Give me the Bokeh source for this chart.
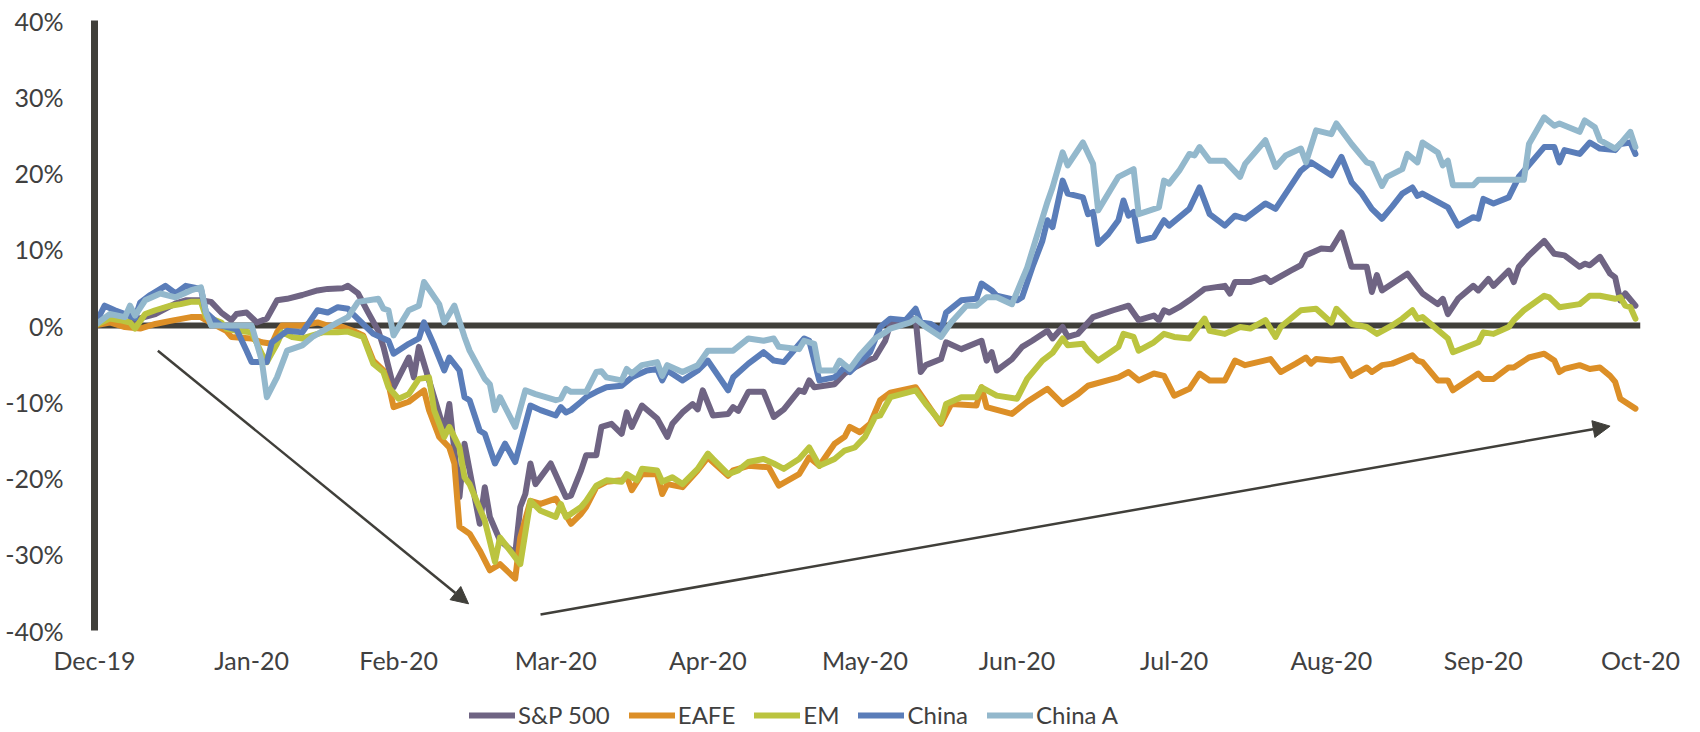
import pandas as pd
from bokeh.plotting import figure
from bokeh.layouts import column
from bokeh.models import (Range1d, FixedTicker, DatetimeTickFormatter, Span, Arrow,
                          NormalHead, Legend, LegendItem)
from bokeh.embed import file_html
from bokeh.resources import INLINE

# ---------------- data (days after 2019-12-31, cumulative return in %) ----------------
BASE_DATE = "2019-12-31"

sp500_days = [0, 3, 6, 12, 16, 18, 21, 23, 25, 27, 28, 30, 32, 34, 36, 38, 41, 44, 46, 49,
              50, 52, 54, 56, 57, 59, 62, 63, 64, 69, 70, 72, 73, 76, 77, 78, 80, 83, 84, 85,
              86, 87, 90, 93, 94, 96, 97, 99, 100, 102, 104, 105, 106, 108, 111, 113, 114, 116, 118, 119,
              120, 122, 125, 126, 127, 129, 132, 134, 136, 139, 140, 141, 142, 146, 148, 150, 152, 154, 156, 157,
              162, 163, 164, 167, 168, 171, 175, 176, 177, 178, 181, 183, 185, 188, 189, 191, 192, 194, 197, 201,
              204, 206, 209, 210, 211, 212, 214, 216, 219, 223, 224, 225, 228, 231, 232, 236, 238, 239, 242, 244,
              246, 248, 251, 252, 253, 254, 259, 262, 265, 266, 267, 269, 272, 273, 275, 276, 279, 280, 281, 283,
              286, 288, 290, 293, 294, 295, 297, 299, 300, 301, 302, 304]
sp500_vals = [0.0, 0.9, 0.4, 1.5, 2.9, 3.3, 3.3, 3.1, 1.7, 0.7, 1.5, 1.7, 0.4, 0.9, 3.3, 3.5, 4.0, 4.6, 4.8, 4.9,
              5.2, 4.2, 1.7, -0.7, -2.8, -8.1, -4.2, -6.8, -2.8, -13.8, -10.3, -22.5, -15.5, -26.0, -21.2, -25.1, -28.2, -29.9, -23.8, -22.1,
              -18.1, -20.8, -18.1, -22.5, -22.3, -19.0, -17.0, -17.0, -13.3, -12.9, -14.2, -11.4, -13.3, -10.5, -12.2, -14.6, -12.9, -11.4, -10.3, -11.0,
              -8.5, -11.8, -11.6, -10.7, -11.2, -8.7, -8.7, -12.0, -11.0, -8.5, -8.7, -7.2, -8.1, -7.7, -6.3, -5.5, -4.8, -4.2, -2.0, 0.2,
              0.9, -6.1, -5.2, -4.4, -2.2, -3.1, -2.0, -4.6, -3.5, -5.9, -4.4, -2.8, -2.0, -0.7, -1.7, -0.2, -1.5, -1.1, 1.1, 2.0,
              2.6, 0.7, 1.3, 0.7, 2.0, 1.7, 2.4, 3.3, 4.8, 5.2, 4.2, 5.7, 5.7, 6.3, 5.7, 7.2, 7.9, 9.2, 10.1, 10.0,
              12.2, 7.7, 7.7, 4.4, 6.6, 4.6, 6.8, 4.2, 2.8, 3.5, 1.5, 3.5, 5.2, 4.6, 6.1, 5.2, 7.2, 5.7, 7.7, 9.2,
              11.1, 9.4, 9.2, 7.7, 8.1, 7.9, 9.0, 6.8, 6.3, 3.3, 4.2, 2.6]

eafe_days = [0, 3, 6, 9, 12, 15, 19, 21, 22, 24, 26, 27, 31, 33, 35, 36, 37, 41, 44, 46,
             49, 51, 53, 55, 57, 58, 59, 62, 64, 65, 66, 68, 70, 71, 72, 74, 76, 78, 80, 83,
             84, 86, 88, 91, 94, 96, 97, 99, 101, 104, 105, 106, 108, 111, 112, 113, 116, 119, 121, 125,
             126, 129, 133, 135, 139, 141, 143, 146, 148, 149, 151, 153, 155, 157, 162, 167, 169, 174, 175, 176,
             181, 184, 188, 191, 194, 196, 202, 204, 206, 209, 211, 213, 216, 218, 220, 223, 225, 227, 232, 234,
             237, 239, 240, 241, 244, 246, 248, 251, 252, 254, 256, 260, 261, 262, 265, 267, 268, 273, 274, 276,
             279, 280, 283, 286, 288, 289, 290, 293, 295, 297, 299, 300, 301, 304]
eafe_vals = [0.0, 0.4, -0.2, -0.4, 0.2, 0.6, 1.1, 1.1, 0.7, 0.0, -0.7, -1.5, -1.7, -2.2, -2.4, -0.9, 0.0, 0.0, 0.4, 0.0,
             -0.2, -0.7, -1.3, -4.6, -5.9, -7.7, -10.7, -10.0, -9.0, -8.5, -11.1, -14.6, -16.0, -18.1, -26.4, -27.3, -29.5, -32.1, -31.3, -33.2,
             -27.8, -23.0, -23.4, -22.7, -26.0, -24.7, -23.8, -21.2, -20.5, -20.3, -19.8, -21.6, -19.5, -19.5, -22.1, -20.8, -21.2, -19.0, -17.3, -19.7,
             -19.0, -18.4, -18.6, -21.0, -19.5, -17.3, -18.4, -15.5, -14.6, -13.3, -14.0, -12.9, -9.8, -8.8, -8.1, -12.9, -10.3, -10.5, -8.1, -10.7,
             -11.6, -10.0, -8.3, -10.3, -9.0, -7.9, -6.8, -6.1, -7.2, -6.3, -6.6, -9.2, -8.3, -6.3, -7.2, -7.2, -4.6, -5.2, -4.4, -6.1,
             -5.0, -4.2, -5.0, -4.4, -4.6, -4.4, -6.6, -5.5, -6.1, -5.2, -5.0, -3.9, -4.6, -4.8, -7.2, -7.2, -8.5, -6.3, -7.0, -7.0,
             -5.5, -5.5, -4.2, -3.7, -4.6, -6.1, -5.7, -5.2, -5.7, -5.5, -6.6, -7.4, -9.6, -10.9]

em_days = [0, 3, 5, 7, 8, 10, 12, 15, 17, 19, 21, 22, 23, 25, 26, 28, 31, 33, 34, 36,
           37, 39, 41, 45, 48, 50, 53, 55, 57, 58, 60, 62, 64, 66, 67, 69, 70, 72, 73, 74,
           77, 79, 80, 83, 84, 86, 88, 91, 92, 93, 94, 96, 97, 99, 101, 104, 105, 107, 108, 111,
           112, 114, 116, 119, 121, 122, 125, 127, 129, 132, 134, 136, 139, 141, 143, 146, 148, 150, 152, 154,
           155, 157, 162, 164, 167, 168, 171, 174, 175, 178, 182, 184, 187, 189, 191, 192, 195, 196, 198, 200,
           202, 203, 205, 206, 209, 211, 213, 216, 219, 220, 223, 226, 228, 231, 233, 234, 238, 241, 244, 245,
           248, 251, 253, 256, 258, 260, 261, 262, 267, 268, 273, 274, 276, 279, 280, 282, 286, 287, 289, 293,
           295, 297, 300, 301, 302, 303, 304]
em_vals = [0.0, 0.9, 0.7, 0.4, -0.4, 1.5, 2.0, 2.6, 2.8, 3.1, 3.1, 1.1, 0.9, 0.4, -0.4, -0.7, -0.9, -3.7, -4.8, -2.4,
           -0.9, -1.5, -1.7, -0.9, -0.9, -0.8, -1.5, -5.0, -6.1, -8.1, -9.6, -9.0, -7.0, -6.8, -11.1, -14.6, -13.3, -16.0, -19.9, -20.8,
           -25.6, -31.0, -27.8, -30.4, -31.3, -23.0, -24.3, -25.1, -23.4, -25.1, -24.7, -23.8, -23.0, -21.0, -20.3, -20.5, -19.5, -20.3, -18.8, -19.0,
           -20.5, -19.9, -20.8, -18.8, -16.8, -17.5, -19.5, -19.0, -17.9, -17.5, -18.1, -18.8, -17.5, -16.0, -18.4, -17.5, -16.4, -16.0, -14.6, -12.0,
           -11.8, -9.4, -8.5, -10.3, -12.7, -10.3, -9.4, -9.4, -8.1, -9.2, -9.6, -7.0, -4.6, -3.6, -1.7, -2.6, -2.4, -3.3, -4.6, -3.7,
           -2.8, -1.1, -1.5, -3.3, -2.2, -1.1, -1.5, -1.7, 0.9, -0.7, -1.1, -0.2, -0.4, 0.7, -1.5, -0.2, 2.0, 2.2, 0.4, 2.2,
           0.2, -0.2, -1.1, 0.0, 0.9, 2.0, 0.9, 1.1, -1.7, -3.5, -2.2, -0.9, -1.1, -0.2, 0.7, 2.0, 3.9, 3.7, 2.4, 2.8,
           3.9, 3.9, 3.5, 3.7, 2.6, 2.4, 0.9]

china_days = [0, 2, 4, 6, 8, 9, 11, 14, 16, 18, 21, 22, 24, 25, 28, 30, 31, 34, 35, 38,
              41, 44, 46, 48, 50, 51, 55, 58, 59, 62, 64, 65, 67, 69, 70, 72, 73, 74, 76, 77,
              79, 81, 83, 86, 88, 91, 92, 93, 94, 96, 97, 99, 101, 104, 106, 109, 111, 112, 113, 116,
              119, 121, 125, 126, 129, 132, 134, 136, 140, 141, 143, 146, 148, 149, 153, 155, 157, 160, 162, 163,
              165, 167, 168, 171, 174, 175, 177, 178, 182, 183, 185, 187, 188, 189, 191, 192, 195, 196, 197, 198,
              200, 202, 203, 204, 205, 206, 209, 211, 212, 216, 218, 220, 223, 225, 227, 231, 233, 238, 240, 244,
              246, 248, 250, 252, 254, 256, 258, 260, 261, 262, 267, 269, 272, 273, 274, 276, 279, 281, 286, 288,
              289, 290, 293, 295, 297, 300, 301, 303, 304]
china_vals = [0.0, 2.6, 2.0, 1.5, 1.0, 3.0, 4.0, 5.2, 4.2, 5.2, 4.8, 1.7, 0.5, 0.0, -0.5, -3.3, -4.8, -4.8, -2.2, -0.7,
              -0.9, 2.0, 1.7, 2.4, 2.2, 1.5, -1.1, -2.0, -3.7, -2.4, -1.7, 0.4, -2.6, -5.9, -4.2, -5.9, -9.4, -9.8, -13.8, -14.2,
              -18.1, -15.5, -17.9, -10.5, -11.1, -11.8, -10.7, -11.4, -11.1, -10.0, -9.4, -8.7, -8.1, -7.9, -6.8, -5.9, -5.7, -7.2, -5.9, -7.2,
              -5.9, -4.6, -8.5, -6.8, -5.0, -3.5, -4.6, -4.8, -1.7, -2.0, -7.2, -6.8, -5.5, -6.1, -3.5, -0.2, 0.9, 0.7, 2.2, 0.4,
              0.2, -0.7, 1.7, 3.3, 3.5, 5.5, 4.6, 3.9, 3.3, 3.7, 7.6, 11.1, 13.8, 12.9, 19.0, 17.3, 16.8, 14.6, 14.9, 10.7,
              12.0, 13.8, 16.4, 14.4, 14.9, 11.1, 11.6, 13.8, 13.1, 15.3, 18.1, 14.6, 13.1, 14.4, 14.0, 16.0, 15.3, 20.3, 21.4, 19.7,
              22.1, 18.8, 17.3, 15.3, 14.0, 15.6, 17.3, 18.1, 17.0, 17.3, 15.5, 13.1, 14.2, 14.0, 16.6, 16.0, 16.8, 19.5, 23.4, 23.4,
              21.4, 23.0, 22.5, 24.0, 23.2, 23.0, 23.8, 24.0, 22.5]

chinaa_days = [0, 3, 6, 7, 8, 10, 13, 16, 19, 21, 22, 23, 31, 33, 34, 36, 38, 41, 43, 48,
               50, 52, 56, 57, 58, 59, 62, 64, 65, 68, 69, 71, 73, 74, 77, 78, 79, 80, 83, 85,
               87, 91, 92, 93, 94, 97, 99, 100, 101, 104, 105, 106, 108, 111, 112, 113, 116, 119, 121, 126,
               129, 132, 134, 135, 139, 140, 142, 143, 146, 147, 149, 151, 154, 156, 157, 161, 162, 164, 167, 169,
               172, 174, 176, 178, 181, 184, 188, 189, 191, 192, 195, 197, 198, 202, 205, 206, 210, 211, 212, 214,
               216, 217, 218, 220, 223, 226, 227, 231, 233, 235, 238, 239, 241, 244, 245, 248, 251, 252, 254, 255,
               258, 259, 261, 262, 265, 266, 267, 268, 272, 273, 282, 283, 286, 288, 289, 293, 294, 296, 297, 300,
               301, 303, 304]
chinaa_vals = [0.0, 1.5, 1.1, 2.6, 1.3, 3.3, 4.2, 3.7, 4.6, 5.0, 1.7, 0.0, 0.0, -4.6, -9.4, -6.8, -3.3, -2.6, -1.5, 0.4,
               1.1, 3.1, 3.5, 2.2, 2.0, -1.3, 2.0, 2.6, 5.7, 2.8, 0.4, 2.6, -1.5, -3.3, -7.0, -7.7, -11.1, -9.4, -13.3, -8.5,
               -9.0, -9.8, -9.6, -8.3, -8.7, -8.7, -6.1, -6.0, -6.8, -7.2, -5.7, -6.3, -5.2, -4.8, -6.6, -5.2, -6.1, -5.2, -3.3, -3.3,
               -1.7, -2.0, -1.7, -2.8, -3.1, -2.0, -2.4, -5.9, -5.9, -4.6, -5.7, -3.9, -1.7, -0.9, -0.4, 0.4, 0.9, -0.2, -1.5, 0.4,
               2.6, 2.6, 3.7, 3.7, 2.8, 7.6, 16.2, 18.1, 22.7, 21.0, 24.0, 21.2, 15.1, 19.5, 20.5, 14.6, 15.5, 19.0, 18.6, 20.3,
               22.5, 22.3, 23.4, 21.6, 21.6, 19.5, 21.2, 24.3, 20.8, 22.3, 23.2, 21.4, 25.6, 25.1, 26.5, 23.8, 21.4, 21.2, 18.3, 19.5,
               20.5, 22.5, 21.4, 24.0, 22.7, 21.0, 21.6, 18.4, 18.4, 19.1, 19.1, 23.8, 27.3, 26.2, 26.5, 25.4, 26.9, 26.0, 24.3, 23.2,
               23.8, 25.4, 23.4]

series_names = ["S&P 500", "EAFE", "EM", "China", "China A"]
series_days = [sp500_days, eafe_days, em_days, china_days, chinaa_days]
series_vals = [sp500_vals, eafe_vals, em_vals, china_vals, chinaa_vals]
series_colors = ["#6F6483", "#DC8F27", "#BBC43F", "#5A7DB9", "#93B8CC"]

month_ticks = ["2019-12-31", "2020-01-31", "2020-02-29", "2020-03-31", "2020-04-30", "2020-05-31",
               "2020-06-30", "2020-07-31", "2020-08-31", "2020-09-30", "2020-10-31"]
y_ticks = [-40, -30, -20, -10, 0, 10, 20, 30, 40]

# annotation arrows: (start day, start %, end day, end %)
arrows = [(12.5, -3.3, 73.8, -36.5), (88.0, -37.9, 299.0, -13.2)]

# ---------------- figure ----------------
INK = "#403F3A"
TEXT = "#404040"
FONT = "Lato"
MAIN_H = 680
base = pd.Timestamp(BASE_DATE)


def to_dt(days):
    return [base + pd.Timedelta(days=float(d)) for d in days]


def to_ms(d):
    return (base + pd.Timedelta(days=float(d))).value / 1e6


p = figure(width=1700, height=MAIN_H, x_axis_type="datetime", output_backend="svg",
           toolbar_location=None,
           x_range=Range1d(pd.Timestamp(month_ticks[0]), pd.Timestamp(month_ticks[-1])),
           y_range=Range1d(-40, 40),
           min_border_left=94, min_border_right=60, min_border_top=20,
           min_border_bottom=MAIN_H - 630)
p.outline_line_color = None
p.xgrid.visible = False
p.ygrid.visible = False
p.background_fill_color = "white"
p.border_fill_color = "white"

# zero line
p.add_layout(Span(location=0, dimension="width", line_color=INK, line_width=6, level="underlay"))

for name, d, v, c in zip(series_names, series_days, series_vals, series_colors):
    assert len(d) == len(v), name
    p.line(to_dt(d), v, line_color=c, line_width=6, line_join="round", line_cap="round")

for xs, ys, xe, ye in arrows:
    p.add_layout(Arrow(x_start=to_ms(xs), y_start=ys, x_end=to_ms(xe), y_end=ye,
                       line_color=INK, line_width=2.5,
                       end=NormalHead(size=17, fill_color=INK, line_color=INK, line_width=1)))

# y axis
ya = p.yaxis[0]
ya.ticker = FixedTicker(ticks=y_ticks)
ya.major_label_overrides = {t: f"{t}%" for t in y_ticks}
ya.axis_line_color = INK
ya.axis_line_width = 7
ya.major_tick_line_color = None
ya.minor_tick_line_color = None
ya.major_label_standoff = 25
ya.major_label_text_font = FONT
ya.major_label_text_font_size = "25px"
ya.major_label_text_color = TEXT

# x axis
xa = p.xaxis[0]
xa.ticker = FixedTicker(ticks=[pd.Timestamp(t).value / 1e6 for t in month_ticks])
xa.formatter = DatetimeTickFormatter(days="%b-%y", months="%b-%y", years="%b-%y",
                                     hours="%b-%y", hourmin="%b-%y")
xa.axis_line_color = None
xa.major_tick_line_color = None
xa.minor_tick_line_color = None
xa.major_label_standoff = 8
xa.major_label_text_font = FONT
xa.major_label_text_font_size = "25px"
xa.major_label_text_color = TEXT

# ---------------- legend strip (separate figure under the chart) ----------------
LEG_H = 732 - MAIN_H
lf = figure(width=1700, height=LEG_H, output_backend="svg", toolbar_location=None,
            x_range=Range1d(0, 1), y_range=Range1d(0, 1),
            min_border_left=94, min_border_right=60, min_border_top=0, min_border_bottom=0)
lf.axis.visible = False
lf.grid.visible = False
lf.outline_line_color = None
lf.background_fill_color = "white"
lf.border_fill_color = "white"

items = []
for name, c in zip(series_names, series_colors):
    # legend key only: a single off-screen (NaN) point
    proxy = lf.line(x=[float("nan")], y=[float("nan")], line_color=c, line_width=6,
                    line_cap="round")
    items.append(LegendItem(label=name, renderers=[proxy]))

legend = Legend(items=items, orientation="horizontal", location=(375, 3),
                glyph_width=46, glyph_height=26, label_height=26, label_standoff=3, spacing=19,
                padding=0, margin=0, border_line_color=None, background_fill_alpha=0,
                label_text_font=FONT, label_text_font_size="24px", label_text_color=TEXT)
lf.add_layout(legend, "center")

layout = column(p, lf, spacing=0)
open("out.html", "w").write(file_html(layout, INLINE))
